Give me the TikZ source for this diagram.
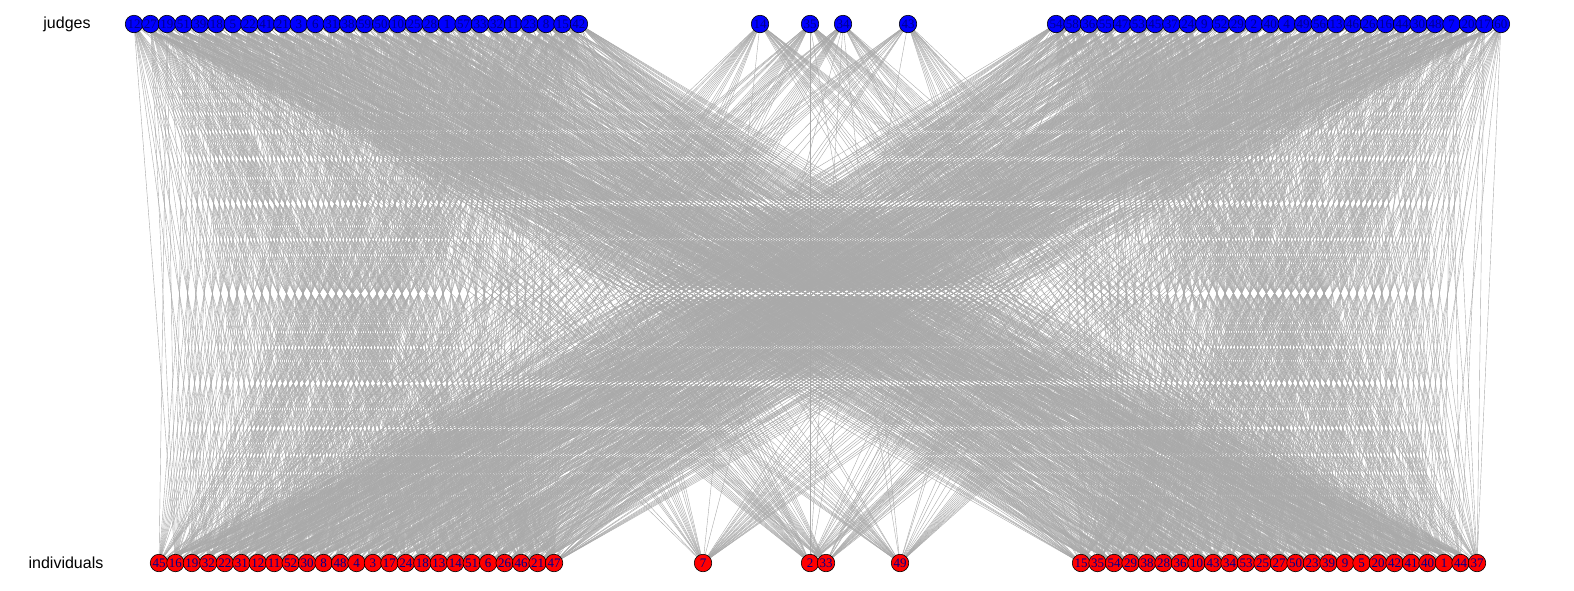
\documentclass[tikz,border=0pt]{standalone}
\usepackage{fontspec}
\setmainfont{Liberation Serif}
\newfontfamily\sansfnt{Liberation Sans}
\usepackage{xcolor}
\usepackage{tikz}
\definecolor{darkblue}{RGB}{0,0,139}
\definecolor{darkgrey}{RGB}{169,169,169}
\pgfdeclarelayer{edges}
\pgfsetlayers{edges,main}
\tikzset{
  vtx/.style={circle, draw=black, line width=0.6pt, inner sep=0pt, minimum size=17.5pt,
    text=darkblue, font=\fontsize{13}{13}\selectfont},
  judge/.style={vtx, fill=blue},
  indiv/.style={vtx, fill=red},
  edge/.style={darkgrey, line width=0.4pt},
  rowlbl/.style={font=\sansfnt\fontsize{16}{18}\selectfont}
}

\begin{document}
\begin{tikzpicture}[x=1pt, y=-1pt]
        \useasboundingbox (0,0) rectangle (1574,590);

        \node[rowlbl] (judges) at (67,24) {judges};
        \node[rowlbl] (individuals) at (66,563) {individuals};

        \foreach \n [count=\k from 0] in {12,27,19,51,39,18,5,22,41,21,3,6,31,38,59,50,10,25,28,1,57,33,32,11,23,8,15,42}
            \node[judge] (j\n) at ({134+16.48*\k},24) {\n};
        \node[judge] (j14) at (760,24) {14};
        \node[judge] (j35) at (810,24) {35};
        \node[judge] (j34) at (843,24) {34};
        \node[judge] (j43) at (908,24) {43};
        \foreach \n [count=\k from 0] in {54,58,36,55,47,53,45,37,24,9,52,29,2,40,4,49,56,13,46,26,16,44,30,48,7,20,17,60}
            \node[judge] (j\n) at ({1056+16.48*\k},24) {\n};

        \foreach \n [count=\k from 0] in {45,16,19,32,22,31,12,11,52,30,8,48,4,3,17,24,18,13,14,51,6,26,46,21,47}
            \node[indiv] (i\n) at ({159+16.46*\k},563) {\n};
        \node[indiv] (i7) at (703,563) {7};
        \node[indiv] (i2) at (810,563) {2};
        \node[indiv] (i33) at (826,563) {33};
        \node[indiv] (i49) at (900,563) {49};
        \foreach \n [count=\k from 0] in {15,35,54,29,38,28,36,10,43,34,53,25,27,50,23,39,9,5,20,42,41,40,1,44,37}
            \node[indiv] (i\n) at ({1081+16.5*\k},563) {\n};

        \begin{pgfonlayer}{edges}
        \foreach \a in {1,...,60}
            \foreach \b in {1,...,54}{
                \pgfmathtruncatemacro\h{mod(mod(\a*\a,97)*13+mod(\b*\b,97)*7+mod(\a*\b,97)*29+\a*5+\b*3,97)}
                \ifnum\h<68 \draw[edge] (j\a.center) -- (i\b.center);\fi
            }
        \end{pgfonlayer}
    \end{tikzpicture}
\end{document}
